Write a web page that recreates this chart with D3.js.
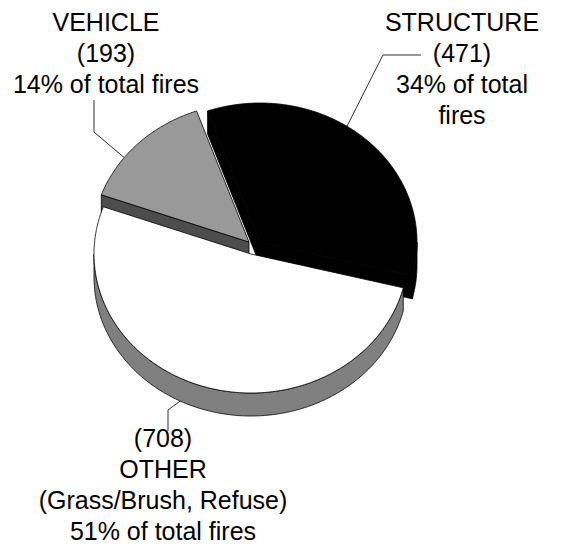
<!DOCTYPE html>
<html>
<head>
<meta charset="utf-8">
<script src="https://cdn.jsdelivr.net/npm/d3@7"></script>
<style>
  body { margin: 0; background: #fff; }
  svg { display: block; font-family: "Liberation Sans", Arial, sans-serif; }
</style>
</head>
<body>
<div class="container"></div>
<script>
// fire counts by type (pie goes clockwise from the structure slice)
const categories = ['STRUCTURE', 'OTHER', 'VEHICLE'];
const counts = [471, 708, 193];
const labelLines = [
  ['STRUCTURE', '(471)', '34% of total', 'fires'],
  ['(708)', 'OTHER', '(Grass/Brush, Refuse)', '51% of total fires'],
  ['VEHICLE', '(193)', '14% of total fires']
];

const width = 563, height = 546;
const rx = 157, ry = 139, depth = 23;
const startDeg = -19.5;

// pulled-out centre of each slice
const centers = [[260, 242], [251, 254], [249, 242]];
const topColors = ['#000', '#fff', '#999'];
const wallColors = ['#000', '#808080', '#999'];
const edgeColors = ['#000', '#808080', '#4d4d4d'];

// label placement: text centre x, first baseline, leader (fraction along arc, on top or bottom rim, elbow, end)
const labelX = [462, 163, 106];
const labelY = [31, 447, 31];
const lineGap = 31;
const leaderFrac = [0.43, 0.553, 0.346];
const leaderLevel = [0, depth, 0];
const leaderElbow = [[383, 55], [168, 410], [94, 132]];
const leaderEnd = [[421, 55], [168, 431], [94, 100]];

const svg = d3.select('.container')
  .append('svg')
  .attr('width', width)
  .attr('height', height);

const start = startDeg * Math.PI / 180;
const pie = d3.pie().sort(null).value(d => d)
  .startAngle(start).endAngle(start + 2 * Math.PI);
const arcs = pie(counts);

function pt(c, a, z) {
  return [c[0] + rx * Math.sin(a), c[1] - ry * Math.cos(a) + z];
}
function arcPts(c, a0, a1, z) {
  const n = Math.max(2, Math.ceil(Math.abs(a1 - a0) / 0.01));
  return d3.range(n + 1).map(i => pt(c, a0 + (a1 - a0) * i / n, z));
}
const line = d3.line();

// back slices first
const order = d3.range(arcs.length)
  .sort((i, j) => Math.cos((arcs[j].startAngle + arcs[j].endAngle) / 2) - Math.cos((arcs[i].startAngle + arcs[i].endAngle) / 2));

const g = svg.append('g');

order.forEach(function(i) {
  const d = arcs[i];
  const c = centers[i];
  const a0 = d.startAngle, a1 = d.endAngle;
  const sg = g.append('g').attr('class', 'slice');

  //radial sides that face the viewer
  const radial = [];
  if (Math.sin(a0) < 0) radial.push(a0);
  if (Math.sin(a1) > 0) radial.push(a1);
  radial.forEach(function(a) {
    const p = [pt(c, a, 0), pt(c, a, depth)];
    const poly = [[c[0], c[1]], p[0], p[1], [c[0], c[1] + depth]];
    sg.append('path')
      .attr('d', line(poly) + 'Z')
      .attr('fill', edgeColors[i])
      .attr('stroke', '#000')
      .attr('stroke-width', 0.8)
      .attr('stroke-linejoin', 'round');
  });

  //outer wall, front half only
  [-1, 0, 1].forEach(function(k) {
    const f0 = Math.PI / 2 + k * 2 * Math.PI, f1 = 3 * Math.PI / 2 + k * 2 * Math.PI;
    const b0 = Math.max(a0, f0), b1 = Math.min(a1, f1);
    if (b1 <= b0) return;
    const poly = arcPts(c, b0, b1, 0).concat(arcPts(c, b1, b0, depth));
    sg.append('path')
      .attr('d', line(poly) + 'Z')
      .attr('fill', wallColors[i])
      .attr('stroke', '#000')
      .attr('stroke-width', 0.8)
      .attr('stroke-linejoin', 'round');
  });

  //top face
  const top = [[c[0], c[1]]].concat(arcPts(c, a0, a1, 0));
  sg.append('path')
    .attr('d', line(top) + 'Z')
    .attr('fill', topColors[i])
    .attr('stroke', '#000')
    .attr('stroke-width', 0.8)
    .attr('stroke-linejoin', 'round');
});

// leader lines
arcs.forEach(function(d, i) {
  const a = d.startAngle + (d.endAngle - d.startAngle) * leaderFrac[i];
  const p = pt(centers[i], a, leaderLevel[i]);
  svg.append('path')
    .attr('d', line([p, leaderElbow[i], leaderEnd[i]]))
    .attr('fill', 'none')
    .attr('stroke', '#333')
    .attr('stroke-width', 1);
});

// labels
labelLines.forEach(function(lines, i) {
  const t = svg.append('text')
    .attr('text-anchor', 'middle')
    .attr('font-size', 25)
    .attr('fill', '#000');
  lines.forEach(function(s, j) {
    t.append('tspan')
      .attr('x', labelX[i])
      .attr('y', labelY[i] + j * lineGap)
      .text(s);
  });
});
</script>
</body>
</html>
